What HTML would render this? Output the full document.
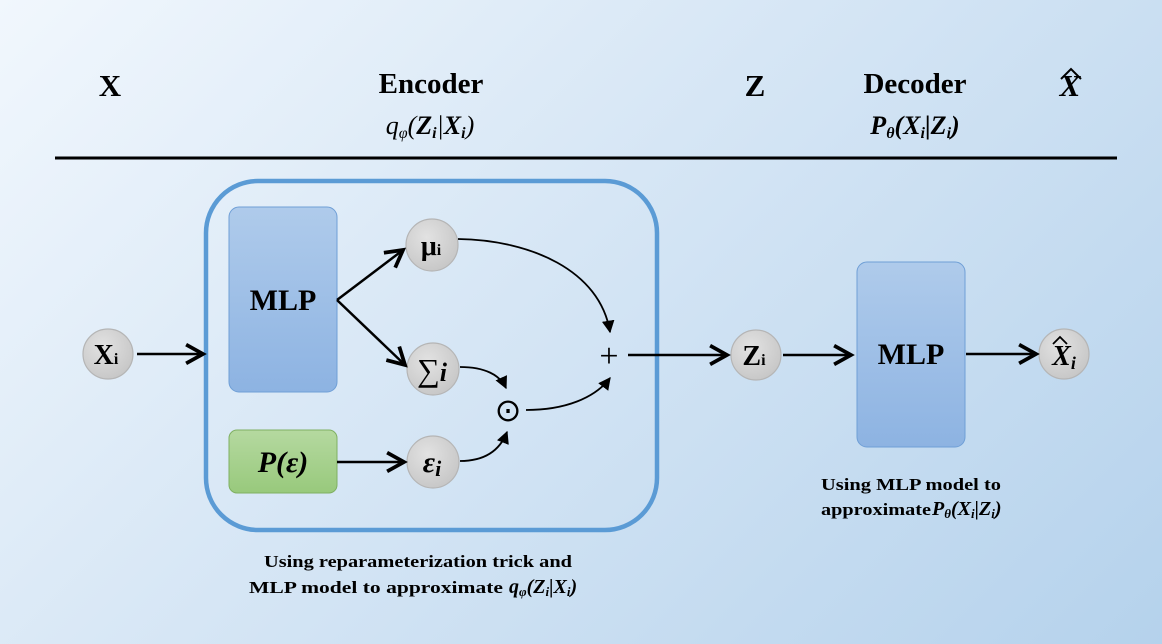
<!DOCTYPE html>
<html><head><meta charset="utf-8"><style>
html,body{margin:0;padding:0;background:#b5d2ec}
body{width:1162px;height:644px;overflow:hidden;background:linear-gradient(135deg,#f1f7fd 0%,#d6e6f5 45%,#b5d2ec 100%);}
svg{display:block}
svg text{font-family:"Liberation Serif",serif;}
</style></head><body>
<svg width="1162" height="644" viewBox="0 0 1162 644" xmlns="http://www.w3.org/2000/svg">
<defs>
<marker id="a" viewBox="0 0 10 10" refX="9" refY="5" markerWidth="7" markerHeight="7" orient="auto"><path d="M0,0 L10,5 L0,10 z" fill="#000"/></marker>
<marker id="o" viewBox="0 0 12 12" refX="10" refY="6" markerWidth="9" markerHeight="9" orient="auto"><path d="M1,1 L10,6 L1,11" fill="none" stroke="#000" stroke-width="2"/></marker>
<radialGradient id="c" cx="0.4" cy="0.35" r="0.7"><stop offset="0" stop-color="#e2e2e2"/><stop offset="1" stop-color="#c6c6c6"/></radialGradient>
<linearGradient id="m" x1="0" y1="0" x2="0" y2="1"><stop offset="0" stop-color="#afcbeb"/><stop offset="1" stop-color="#8db3e2"/></linearGradient>
<linearGradient id="g" x1="0" y1="0" x2="0" y2="1"><stop offset="0" stop-color="#b5d9a0"/><stop offset="1" stop-color="#98c97c"/></linearGradient>
</defs>
<g font-weight="bold" font-size="31" text-anchor="middle">
<text x="110" y="96">X</text>
<text x="431" y="93" font-size="29">Encoder</text>
<text x="755" y="96">Z</text>
<text x="915" y="93" font-size="29">Decoder</text>
<text x="1070" y="96" font-style="italic">X</text>
</g>
<path d="M1061,79 L1071,69 L1081,79" fill="none" stroke="#000" stroke-width="2"/>
<text x="430" y="134" font-size="26" text-anchor="middle" font-style="italic">q<tspan font-size="16" dy="4">φ</tspan><tspan dy="-4">(<tspan font-weight="bold">Z</tspan><tspan font-size="16" dy="4" font-weight="bold">i</tspan><tspan dy="-4">|</tspan><tspan font-weight="bold">X</tspan><tspan font-size="16" dy="4" font-weight="bold">i</tspan><tspan dy="-4">)</tspan></tspan></text>
<text x="915" y="134" font-size="26" text-anchor="middle" font-style="italic" font-weight="bold">P<tspan font-size="16" dy="4">θ</tspan><tspan dy="-4">(X</tspan><tspan font-size="16" dy="4">i</tspan><tspan dy="-4">|Z</tspan><tspan font-size="16" dy="4">i</tspan><tspan dy="-4">)</tspan></text>
<line x1="55" y1="158" x2="1117" y2="158" stroke="#000" stroke-width="3"/>

<rect x="206" y="181" width="451" height="349" rx="52" fill="none" stroke="#5b9bd5" stroke-width="4.5"/>
<rect x="229" y="207" width="108" height="185" rx="10" fill="url(#m)" stroke="#6f9fd6"/>
<text x="283" y="310" font-size="30" font-weight="bold" text-anchor="middle">MLP</text>
<rect x="229" y="430" width="108" height="63" rx="8" fill="url(#g)" stroke="#7fb062"/>
<text x="283" y="472" font-size="30" font-weight="bold" font-style="italic" text-anchor="middle">P(ε)</text>
<rect x="857" y="262" width="108" height="185" rx="10" fill="url(#m)" stroke="#6f9fd6"/>
<text x="911" y="364" font-size="30" font-weight="bold" text-anchor="middle">MLP</text>

<g fill="url(#c)" stroke="#b5b5b5" stroke-width="1.2">
<circle cx="108" cy="354" r="25"/><circle cx="432" cy="245" r="26"/><circle cx="433" cy="369" r="26"/><circle cx="433" cy="462" r="26"/><circle cx="756" cy="355" r="25"/><circle cx="1064" cy="354" r="25"/>
</g>
<g font-weight="bold" text-anchor="middle" font-size="28">
<text x="106" y="364">X<tspan font-size="16">i</tspan></text>
<text x="431" y="255">μ<tspan font-size="16">i</tspan></text>
<text x="432" y="381" font-weight="normal" font-size="32">∑<tspan font-style="italic" font-weight="bold" font-size="26">i</tspan></text>
<text x="432" y="472" font-style="italic" font-size="30">ε<tspan font-size="22" dy="4">i</tspan></text>
<text x="754" y="365">Z<tspan font-size="16">i</tspan></text>
<text x="1064" y="365" font-style="italic">X<tspan font-size="18" dy="4">i</tspan></text>
</g>
<path d="M1053,344 L1060,337 L1067,344" fill="none" stroke="#000" stroke-width="1.8"/>
<text x="508" y="421" font-size="32" text-anchor="middle" font-family="DejaVu Sans">⊙</text>
<text x="609" y="367" font-size="34" text-anchor="middle" font-family="DejaVu Sans">+</text>

<g stroke="#000" stroke-width="2.5" fill="none">
<line x1="137" y1="354" x2="203" y2="354" marker-end="url(#o)"/>
<line x1="337" y1="300" x2="403" y2="250" marker-end="url(#o)"/>
<line x1="337" y1="300" x2="405" y2="365" marker-end="url(#o)"/>
<line x1="337" y1="462" x2="404" y2="462" marker-end="url(#o)"/>
<line x1="628" y1="355" x2="727" y2="355" marker-end="url(#o)"/>
<line x1="783" y1="355" x2="851" y2="355" marker-end="url(#o)"/>
<line x1="966" y1="354" x2="1036" y2="354" marker-end="url(#o)"/>
</g>
<g stroke="#000" stroke-width="1.8" fill="none">
<path d="M458,239 C530,240 600,270 610,332" marker-end="url(#a)"/>
<path d="M460,367 C485,367 500,375 506,388" marker-end="url(#a)"/>
<path d="M460,461 C485,461 500,450 507,432" marker-end="url(#a)"/>
<path d="M526,410 C565,410 595,398 610,378" marker-end="url(#a)"/>
</g>

<g font-size="17" font-weight="bold">
<text x="264" y="567" textLength="308" lengthAdjust="spacingAndGlyphs">Using reparameterization trick and</text>
<text x="249" y="593" textLength="254" lengthAdjust="spacingAndGlyphs">MLP model to approximate</text>
<text x="509" y="593" font-style="italic" font-size="20">q<tspan font-size="13" dy="3">φ</tspan><tspan dy="-3">(Z</tspan><tspan font-size="13" dy="3">i</tspan><tspan dy="-3">|X</tspan><tspan font-size="13" dy="3">i</tspan><tspan dy="-3">)</tspan></text>
<text x="821" y="490" textLength="180" lengthAdjust="spacingAndGlyphs">Using MLP model to</text>
<text x="821" y="515" textLength="110" lengthAdjust="spacingAndGlyphs">approximate</text>
<text x="932" y="515" font-style="italic" font-size="20">P<tspan font-size="13" dy="3">θ</tspan><tspan dy="-3">(X</tspan><tspan font-size="13" dy="3">i</tspan><tspan dy="-3">|Z</tspan><tspan font-size="13" dy="3">i</tspan><tspan dy="-3">)</tspan></text>
</g>
</svg>
</body></html>
